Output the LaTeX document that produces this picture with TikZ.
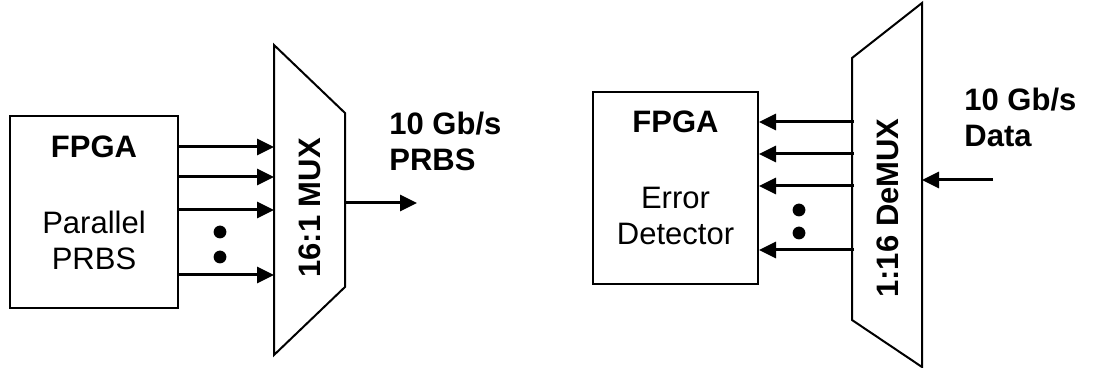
\documentclass[tikz,border=0pt]{standalone}
\usepackage{fontspec}
\setmainfont{Liberation Sans}
\usepackage{tikz}
\usetikzlibrary{arrows.meta,positioning,calc}

\tikzset{
  fpgabox/.style={draw,line width=1pt,minimum width=84pt,minimum height=96pt,inner sep=0pt},
  muxshape/.style={draw,line width=1pt},
  busline/.style={line width=1.5pt,-{Triangle[length=8.5pt,width=8pt]}},
  lbl/.style={font=\fontsize{15.5}{18}\selectfont,inner sep=0pt,align=center},
  blbl/.style={lbl,font=\fontsize{15.5}{18}\selectfont\bfseries},
}

\begin{document}
\begin{tikzpicture}[x=0.5pt,y=-0.5pt]
    \useasboundingbox (0,0) rectangle (1094,368);

    % transmitter side
    \node[fpgabox] (fpgaTx) at (94,212.5) {};
    \node[blbl] (fpgaTxName) at (94,147) {FPGA};
    \node[lbl] (fpgaTxFunc) at (94,240) {Parallel\\PRBS};

    \draw[muxshape] (274,45) -- (345,113) -- (345,287) -- (274,355) -- cycle;
    \node[blbl,rotate=90] (muxName) at (310,208) {16:1 MUX};
    \coordinate (muxIn1) at (274,147);
    \coordinate (muxIn2) at (274,177);
    \coordinate (muxIn3) at (274,210);
    \coordinate (muxIn4) at (274,275);
    \coordinate (muxOut) at (345,203);
    \coordinate (txEnd) at (417,203);

    \foreach \i in {1,...,4}
      \draw[busline] (fpgaTx.east |- muxIn\i) -- (muxIn\i);
    \fill (220,232) circle (3.2pt) (220,257) circle (3.2pt);
    \draw[busline] (muxOut) -- (txEnd);
    \node[blbl,align=left,anchor=west] (txRate) at (389,141) {10 Gb/s\\PRBS};

    % receiver side
    \node[fpgabox,minimum width=82.5pt] (fpgaRx) at (675.5,188.5) {};
    \node[blbl] (fpgaRxName) at (675.5,122) {FPGA};
    \node[lbl] (fpgaRxFunc) at (675.5,216) {Error\\Detector};

    \draw[muxshape] (852,58) -- (922,3) -- (922,367) -- (852,320) -- cycle;
    \node[blbl,rotate=90] (demuxName) at (888,208) {1:16 DeMUX};
    \coordinate (demuxOut1) at (854,122);
    \coordinate (demuxOut2) at (854,154);
    \coordinate (demuxOut3) at (854,186);
    \coordinate (demuxOut4) at (854,250);
    \coordinate (demuxIn) at (922,180);
    \coordinate (rxStart) at (993,180);

    \foreach \i in {1,...,4}
      \draw[busline] (demuxOut\i) -- (fpgaRx.east |- demuxOut\i);
    \fill (799,210) circle (3.2pt) (799,233) circle (3.2pt);
    \draw[busline] (rxStart) -- (demuxIn);
    \node[blbl,align=left,anchor=west] (rxRate) at (964,117) {10 Gb/s\\Data};
  \end{tikzpicture}
\end{document}
